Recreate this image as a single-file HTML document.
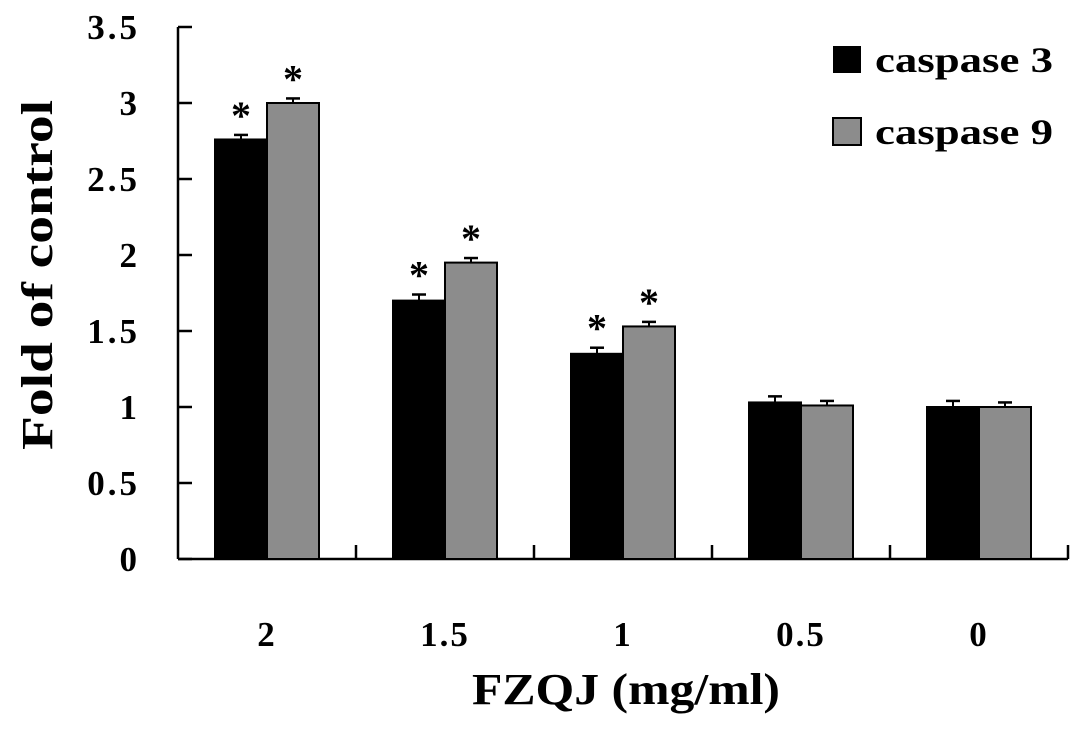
<!DOCTYPE html>
<html><head><style>
body{margin:0;background:#fff}
svg text{font-family:"Liberation Serif",serif;font-weight:bold;fill:#000}
</style></head><body>
<svg id="c" width="1087" height="746"></svg>
<script>
const categories=["2","1.5","1","0.5","0"];
const casp3=[2.76,1.70,1.35,1.03,1.00];
const casp3Err=[0.03,0.04,0.04,0.04,0.04];
const casp9=[3.00,1.95,1.53,1.01,1.00];
const casp9Err=[0.03,0.03,0.03,0.03,0.03];
const sig3=[true,true,true,false,false];
const sig9=[true,true,true,false,false];
const yTicks=["0","0.5","1","1.5","2","2.5","3","3.5"];
const svg=document.getElementById('c');
const NS="http://www.w3.org/2000/svg";
const x0=178,y0=559,pxPer=152,catW=178;
const Y=v=>y0-v*pxPer;
const X=i=>x0+i*catW;
function el(t,a,p){const e=document.createElementNS(NS,t);for(const k in a)e.setAttribute(k,a[k]);(p||svg).appendChild(e);return e;}
let a=el('line',{x1:x0,y1:Y(3.5),x2:x0,y2:y0,stroke:'#000','stroke-width':2.5});

a=el('line',{x1:x0,y1:y0,x2:x0+catW*5,y2:y0,stroke:'#000','stroke-width':2.5});

yTicks.forEach(t=>{const v=parseFloat(t);
 el('line',{x1:x0,y1:Y(v),x2:x0+14,y2:Y(v),stroke:'#000','stroke-width':2.5});
 const tx=el('text',{x:140,y:Y(v)+12,'text-anchor':'end','font-size':35,'letter-spacing':3});tx.textContent=t;
 
});
for(let i=1;i<=5;i++)el('line',{x1:X(i),y1:y0,x2:X(i),y2:y0-14,stroke:'#000','stroke-width':2.5});
const bw=52;
categories.forEach((c,i)=>{
 const cx=X(i)+catW/2;
 [[casp3,casp3Err,sig3,'#000',cx-bw,'bar-caspase3'],[casp9,casp9Err,sig9,'#8c8c8c',cx,'bar-caspase9']].forEach(([vals,errs,sig,col,bx,nm])=>{
  const v=vals[i];
  const r=el('rect',{x:bx,y:Y(v),width:bw,height:y0-Y(v),fill:col,stroke:'#000','stroke-width':2});
  
  const mx=bx+bw/2,top=Y(v+errs[i]);
  el('line',{x1:mx,y1:Y(v),x2:mx,y2:top,stroke:'#000','stroke-width':2});
  el('line',{x1:mx-7,y1:top,x2:mx+7,y2:top,stroke:'#000','stroke-width':2.5});
  if(sig[i]){const s=el('text',{x:mx,y:top-6,'text-anchor':'middle','font-size':40,'font-weight':'normal'});s.textContent='*';
   }
 });
 const t=el('text',{x:cx,y:646,'text-anchor':'middle','font-size':35,'letter-spacing':2});t.textContent=c;
 
});
</script>
<svg style="position:absolute;left:0;top:0" width="1087" height="746">
<g>
<rect x="833" y="46" width="28" height="27" fill="#000"/>
<text x="875" y="72" font-size="36" textLength="178" lengthAdjust="spacingAndGlyphs">caspase 3</text>
<rect x="833" y="118" width="28" height="27" fill="#8c8c8c" stroke="#000" stroke-width="2"/>
<text x="875" y="144" font-size="36" textLength="178" lengthAdjust="spacingAndGlyphs">caspase 9</text>
</g>
<text x="472" y="704" font-size="44" textLength="308" lengthAdjust="spacingAndGlyphs">FZQJ (mg/ml)</text>
<text transform="translate(52,450) rotate(-90)" font-size="44" textLength="350" lengthAdjust="spacingAndGlyphs">Fold of control</text>
</svg>
</body></html>
